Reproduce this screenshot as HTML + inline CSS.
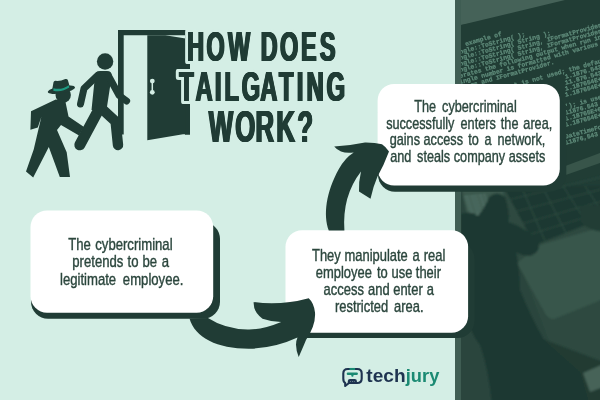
<!DOCTYPE html>
<html><head><meta charset="utf-8">
<style>
html,body{margin:0;padding:0;background:#d4eee5;}
body{width:600px;height:400px;overflow:hidden;font-family:"Liberation Sans",sans-serif;}
svg{display:block}
text{font-family:"Liberation Sans",sans-serif;}
.b{font-size:16px;fill:#2b463d;stroke:#2b463d;stroke-width:0.4px}
.c{white-space:pre;font-family:"Liberation Mono",monospace;font-size:6.3px;font-weight:700;fill:#5f8b7a;stroke:#5f8b7a;stroke-width:0.25px}
</style></head><body>
<svg width="600" height="400" viewBox="0 0 600 400">
<defs><filter id="bl" x="-5%" y="-5%" width="110%" height="110%"><feGaussianBlur stdDeviation="1.3"/></filter><clipPath id="pc"><rect x="455" y="0" width="145" height="400"/></clipPath>
<clipPath id="sc"><path d="M461 25L600 -9V200H461Z"/></clipPath></defs>
<rect width="600" height="400" fill="#d4eee5"/>

<!-- PHOTO PANEL -->
<g id="photo" clip-path="url(#pc)">
<rect x="455" y="0" width="145" height="400" fill="#29453c"/>
<path d="M455 0H600V0L461 25H455Z" fill="#456258"/>
<rect x="455" y="0" width="5.5" height="400" fill="#3e5d52"/>
<path d="M461 25L565 0H600V190H461Z" fill="#213d35"/>
<g clip-path="url(#sc)" opacity="0.999">
<text class="c" transform="translate(462 46.9) rotate(-15.5)"> example of</text>
<text class="c" transform="translate(460 54.1) rotate(-15.5)">ngle::ToString( );</text>
<text class="c" transform="translate(460 60.1) rotate(-15.5)">ngle::ToString( String );</text>
<text class="c" transform="translate(460 66.1) rotate(-15.5)">ngle::ToString( String, IFormatProvider ), and</text>
<text class="c" transform="translate(460 72.1) rotate(-15.5)">ngle::ToString( String, IFormatProvider, IFormatProv</text>
<text class="c" transform="translate(460 78.1) rotate(-15.5)">erates the following output when run in the [</text>
<text class="c" transform="translate(460 84.1) rotate(-15.5)">ingle number is formatted with various cultu</text>
<text class="c" transform="translate(460 90.1) rotate(-15.5)">tings and IFormatProvider.</text>
<text class="c" transform="translate(460 102.1) rotate(-15.5)">             mat is not used; the default culture</text>
<text class="c" transform="translate(460 108.1) rotate(-15.5)">                             1.1876.543</text>
<text class="c" transform="translate(460 114.1) rotate(-15.5)">                             11.876.5430E+00</text>
<text class="c" transform="translate(460 120.1) rotate(-15.5)">                             1.187654E+004</text>
<text class="c" transform="translate(460 126.1) rotate(-15.5)">                             1.187654E+004</text>
<text class="c" transform="translate(460 138.1) rotate(-15.5)">                             '); is used for</text>
<text class="c" transform="translate(460 144.1) rotate(-15.5)">                             11876.543</text>
<text class="c" transform="translate(460 150.1) rotate(-15.5)">                             1.18765E+004</text>
<text class="c" transform="translate(460 156.1) rotate(-15.5)">                             1.187654E+004</text>
<text class="c" transform="translate(460 168.1) rotate(-15.5)">                             DateTimeFormat</text>
<text class="c" transform="translate(460 174.1) rotate(-15.5)">                             11876,543</text>
</g>

<path d="M560 168L600 153V163L560 177Z" fill="#38554a"/>
<!-- lower photo -->
<g filter="url(#bl)">
<path d="M445 186H606V406H445Z" fill="#29453c"/>
<path d="M503 186H606V364L550 344L519 262Z" fill="#2e4a40"/>
<!-- keyboard -->
<path d="M503 186H606V217L535 245Z" fill="#1d3830"/>
<g stroke="#2d4a40" stroke-width="1.2" fill="none">
<path d="M508 200L606 176M514 212L606 188M521 224L606 200M528 235L606 211"/>
<path d="M522 188L545 241M542 186L566 233M563 186L588 225M585 186L606 218"/>
</g>
<!-- trackpad -->
<path d="M517 263L540 245L606 226V298L554 319Q548 319 545 313Z" fill="#39564c"/>
<!-- desk / front strip -->
<path d="M540 338L606 363V406H560Z" fill="#213b33"/>
<path d="M583 373L606 363V386L590 392Z" fill="#466358"/>
<!-- phone -->
<path d="M462 190H503L513 233L472 240Z" fill="#3a584e"/>
<g stroke="#6a8c80" stroke-width="1.1" stroke-dasharray="5 1 8 1 3 1" opacity="0.8">
<path d="M464 197L486 195M465 200L487 198M466 203L488 201M467 206L489 204M468 209L490 207M469 212L490 210M470 215L488 213M471 218L487 216.5"/>
</g>
<!-- hand / arm -->
<path d="M461 214Q470 210 478 216Q486 206 489 197Q497 190 505 197Q510 212 509 222Q525 228 538 240Q542 252 530 256Q522 256 516 252Q520 272 520 290Q530 315 544 340L580 372L590 406H492Q489 370 480 345Q468 330 461 300Z" fill="#1f3931"/>
<path d="M581 206Q590 204 606 208V232Q590 232 581 222Z" fill="#223d35"/>
</g>
<rect x="455" y="0" width="6" height="400" fill="#3f5d53"/>
</g>

<!-- DOOR -->
<g id="door" fill="#203c35">
<path d="M118 30H190V134.7H185V35.3H123.7V134.5H118Z"/>
<path d="M147.3 35.3H165.3L185.5 38.5V134.3H183L147.3 140.2Z"/>
<g fill="#d4eee5"><circle cx="152.3" cy="81.1" r="2.4"/><circle cx="152.3" cy="92.3" r="2.4"/><rect x="151.55" y="81" width="1.5" height="11"/></g>
</g>

<!-- PEOPLE -->
<g id="people" fill="#203c35" stroke="#203c35" stroke-linecap="round" stroke-linejoin="round">
<!-- person 1 -->
<circle cx="105.1" cy="61.5" r="8.2" stroke="none"/>
<path d="M95 76Q95 71 100 71H107Q112 71 111.7 76L106.5 110H91.5Z" stroke="none"/>
<path d="M97.5 75.5L84 88.5L80.5 104" stroke-width="7" fill="none"/>
<path d="M108.5 76L119.2 95.5L126.6 101" stroke-width="7" fill="none"/>
<path d="M98 111L79.8 144.8" stroke-width="11" fill="none"/>
<path d="M101.5 108.5L115.6 121.5L118 145" stroke-width="10.4" fill="none"/>
<!-- person 2 -->
<circle cx="63.2" cy="95" r="7.7" stroke="none"/>
<path stroke="none" d="M31 111.2L55.7 99.6L65.3 101L68 114L68.5 116.5L84 127L79 135.5L61 125L57 130L66.7 152.3L70 177L59.8 177L48.8 146.9L33.2 177.6L26 171.6L33.7 149.6L41.4 116.7L37.8 127.6L30.4 129.8Z"/>
</g>
<g id="hat">
<ellipse cx="61.4" cy="89.7" rx="13.8" ry="3.6" fill="#203c35" transform="rotate(-10 61.4 89.7)"/>
<path d="M52.3 89L53.5 82.3Q53.8 80.7 55.6 80.8Q60.5 81.3 65.3 79Q67.3 78.5 67.9 80.3L69.8 86.8Z" fill="#203c35"/>
<path d="M53.5 88.2Q61.5 90.4 68.8 85.2L69.3 87.6Q61.5 92.8 53.3 90.7Z" fill="#1f9b82"/>
</g>

<!-- BOXES -->
<g id="boxes">
<rect x="31" y="222" width="189" height="96.8" rx="17" fill="#203c35"/>
<rect x="30.5" y="210.5" width="182.7" height="102.2" rx="16.5" fill="#fff"/>
<rect x="286" y="242" width="188.5" height="96.1" rx="17" fill="#203c35"/>
<rect x="285.5" y="230.2" width="182.6" height="102.5" rx="16.5" fill="#fff"/>
<rect x="378" y="95.5" width="188.3" height="96.3" rx="17" fill="#203c35"/>
<rect x="377.6" y="84" width="182.2" height="101.5" rx="16.5" fill="#fff"/>
</g>

<!-- ARROWS -->
<g id="arrows" fill="#203c35">
<path d="M189.5 318.5C195 338 218 349 250 348.7Q275 348 297.5 337.5Q294 345 298.7 357Q304 345 306 340Q316 325 315 312.5Q314 303 308.7 298.2Q280 306 253.7 302Q253 312 262.5 318.7Q272 322 281.2 322Q262 330 247.5 329.5Q225 329 208 318Z"/>
<path d="M328.75 230.6C323 215 326 192 339 168.8Q345 158 353.7 152.5Q346 153.5 341 151.5Q336 149 334.2 146.5Q350 145.5 365 142.4Q375 142.3 382 144.3Q386 147 389 151.5Q384 165 377.4 176.8Q373 187 370.5 198.8L359 191.5Q358.5 182 361 171.5Q342 196 344.4 230.6Z"/>
</g>

<!-- TITLE -->
<g id="title" opacity="0.999">
<g fill="#d4eee5" stroke="#d4eee5" stroke-width="6" stroke-linejoin="round">
<use href="#t0" x="-1.90"/><use href="#t0" x="-0.70"/><use href="#t0" x="0.70"/><use href="#t0" x="1.90"/>
<use href="#t1" x="-1.90"/><use href="#t1" x="-0.70"/><use href="#t1" x="0.70"/><use href="#t1" x="1.90"/>
<use href="#t2" x="-1.90"/><use href="#t2" x="-0.70"/><use href="#t2" x="0.70"/><use href="#t2" x="1.90"/>
</g>
<g fill="#203c35">
<text id="t0" font-weight="700" font-size="42.59" transform="translate(0 61.10) scale(0.5504 1)" x="340.1 375.1 414.3 444.0 473.7 508.8 546.8 581.2" y="0">HOW DOES</text>
<use href="#t0" x="-0.80"/><use href="#t0" x="-0.40"/><use href="#t0" x="0.40"/><use href="#t0" x="0.80"/>
<text id="t1" font-weight="700" font-size="42.73" transform="translate(0 101.20) scale(0.5545 1)" x="323.2 352.7 387.6 404.8 435.9 469.4 503.1 535.3 553.0 589.1" y="0">TAILGATING</text>
<use href="#t1" x="-0.80"/><use href="#t1" x="-0.40"/><use href="#t1" x="0.40"/><use href="#t1" x="0.80"/>
<text id="t2" font-weight="700" font-size="43.60" transform="translate(0 141.80) scale(0.5926 1)" x="352.4 396.9 431.1 466.4 501.6" y="0">WORK?</text>
<use href="#t2" x="-0.80"/><use href="#t2" x="-0.40"/><use href="#t2" x="0.40"/><use href="#t2" x="0.80"/>
</g>
</g>

<!-- BODY TEXT -->
<g id="body" opacity="0.999">
<text class="b" transform="translate(0 249.8) scale(0.8207 1)" y="0"><tspan x="83.1">The </tspan><tspan x="116.1">cybercriminal</tspan></text>
<text class="b" transform="translate(0 267.2) scale(0.8207 1)" y="0"><tspan x="88.1">pretends </tspan><tspan x="155.5">to </tspan><tspan x="173.5">be </tspan><tspan x="197.0">a</tspan></text>
<text class="b" transform="translate(0 285.1) scale(0.8207 1)" y="0"><tspan x="73.1">legitimate </tspan><tspan x="149.7">employee.</tspan></text>

<text class="b" transform="translate(0 261.2) scale(0.8099 1)" y="0"><tspan x="385.2">They </tspan><tspan x="425.3">manipulate </tspan><tspan x="509.2">a </tspan><tspan x="523.3">real</tspan></text>
<text class="b" transform="translate(0 278.0) scale(0.8099 1)" y="0"><tspan x="389.8">employee </tspan><tspan x="465.4">to </tspan><tspan x="483.5">use </tspan><tspan x="513.4">their</tspan></text>
<text class="b" transform="translate(0 294.7) scale(0.8099 1)" y="0"><tspan x="399.5">access </tspan><tspan x="454.5">and </tspan><tspan x="485.5">enter </tspan><tspan x="526.9">a</tspan></text>
<text class="b" transform="translate(0 312.0) scale(0.8099 1)" y="0"><tspan x="413.6">restricted </tspan><tspan x="486.5">area.</tspan></text>

<text class="b" transform="translate(0 112.0) scale(0.7926 1)" y="0"><tspan x="522.6">The </tspan><tspan x="557.8">cybercriminal</tspan></text>
<text class="b" transform="translate(0 128.5) scale(0.7926 1)" y="0"><tspan x="487.2">successfully </tspan><tspan x="581.1">enters </tspan><tspan x="631.9">the </tspan><tspan x="660.3">area,</tspan></text>
<text class="b" transform="translate(0 145.0) scale(0.7926 1)" y="0"><tspan x="491.7">gains </tspan><tspan x="534.4">access </tspan><tspan x="590.7">to </tspan><tspan x="611.3">a </tspan><tspan x="627.7">network,</tspan></text>
<text class="b" transform="translate(0 161.8) scale(0.7926 1)" y="0"><tspan x="492.4">and </tspan><tspan x="526.2">steals </tspan><tspan x="572.5">company </tspan><tspan x="641.8">assets</tspan></text>
</g>

<!-- LOGO -->
<g id="logo" opacity="0.999">
<path d="M347.8 369H357.2Q361.7 369 361.7 373.5V378.5Q361.7 383 357.2 383H349L345.2 386V383Q343.3 382 343.3 378.5V373.5Q343.3 369 347.8 369Z" fill="none" stroke="#1e3350" stroke-width="2.1" stroke-linejoin="round"/>
<path d="M349.5 369H355.1" stroke="#1b8a73" stroke-width="2.1" fill="none"/>
<rect x="346.7" y="372.5" width="11.2" height="2.4" rx="1.2" fill="#1b8a73"/>
<rect x="351.3" y="373.5" width="2.2" height="3.3" rx="1" fill="#1b8a73"/>
<path d="M347.8 383V381Q347.8 379.1 350 379.1H354.7Q356.9 379.1 356.9 381V383Z" fill="#1e3350"/>
<g fill="#d4eee5"><circle cx="350.6" cy="381.6" r="0.45"/><circle cx="352.4" cy="381.6" r="0.45"/><circle cx="354.2" cy="381.6" r="0.45"/></g>
<text x="366.3" y="381.8" font-size="18" font-weight="700" fill="#1e3350" textLength="39.3" lengthAdjust="spacingAndGlyphs">tech</text>
<text x="405.8" y="381.8" font-size="18" font-weight="700" fill="#1b8a73" textLength="33.5" lengthAdjust="spacingAndGlyphs">jury</text>
</g>
</svg>
</body></html>
